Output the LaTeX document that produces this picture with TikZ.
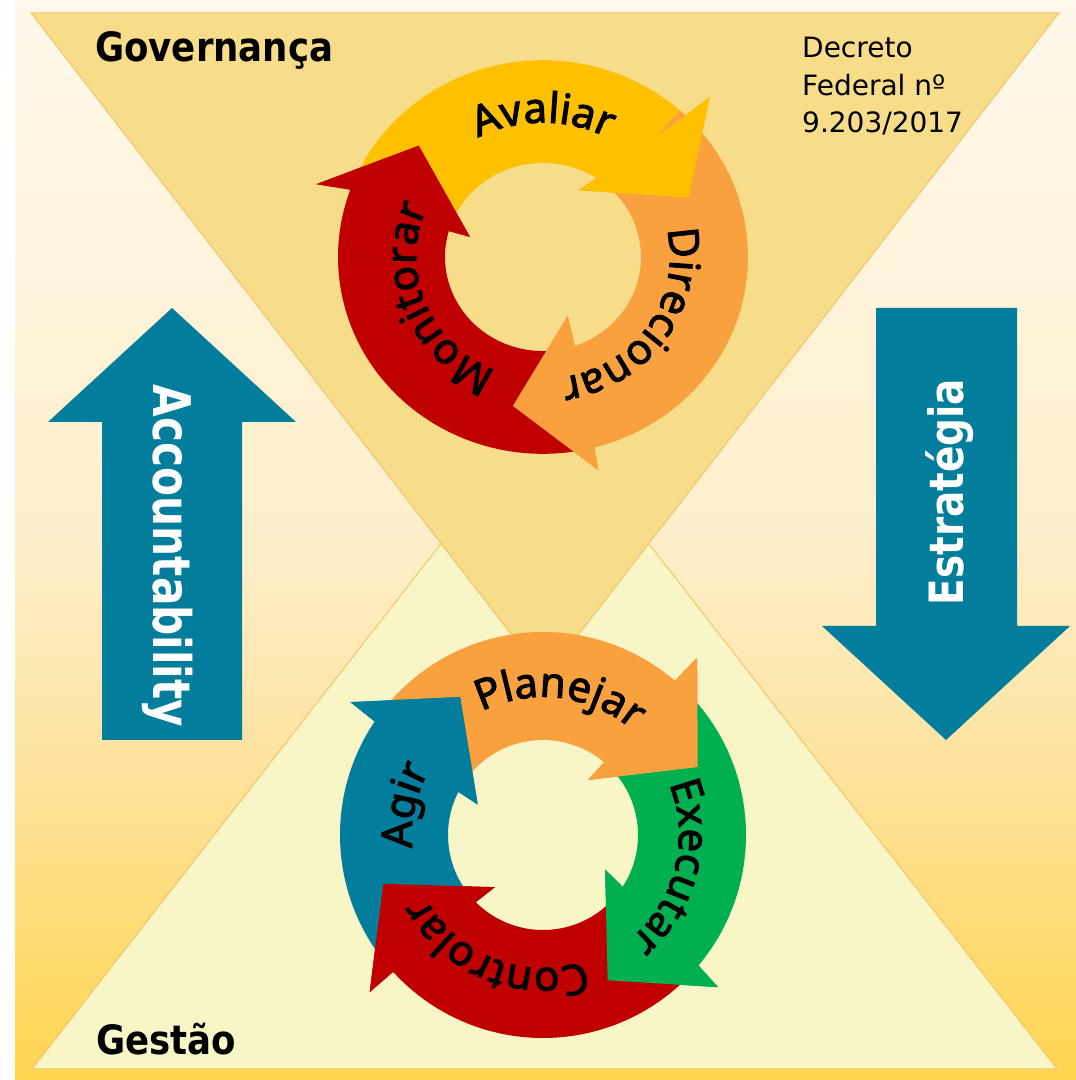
\documentclass[tikz,border=0pt]{standalone}
\usepackage{fontspec}
\setmainfont{Noto Sans}
\usetikzlibrary{decorations.text}
\newfontfamily\arcfont{Noto Sans}[FakeBold=2.4]
\newfontfamily\condbold{DejaVu Sans Bold}[FakeStretch=0.88]
\newfontfamily\decfont{DejaVu Sans}
\newcommand\arcfnt{\arcfont\fontsize{42}{42}\selectfont}
\definecolor{bgtop}{HTML}{FFF8EB}
\definecolor{bgmid}{HTML}{FEEFCB}
\definecolor{bglow}{HTML}{FDE3A0}
\definecolor{bgbot}{HTML}{FFD54F}
\definecolor{tritop}{HTML}{F7DC8A}
\definecolor{tribot}{HTML}{F8F6C6}
\definecolor{triedge}{HTML}{F3C46A}
\definecolor{cyel}{HTML}{FFC000}
\definecolor{cora}{HTML}{F9A03F}
\definecolor{cred}{HTML}{C00000}
\definecolor{cgrn}{HTML}{00B050}
\definecolor{cblu}{HTML}{027D9C}
\pgfdeclareverticalshading{bgshade}{100bp}{color(0bp)=(bgbot); color(25bp)=(bgbot); color(40bp)=(bglow); color(50bp)=(bgmid); color(75bp)=(bgtop); color(100bp)=(bgtop)}
\tikzset{
  tri/.style={draw=triedge, line width=1},
  bigarrow/.style={fill=cblu},
  bigtxt/.style={text=white, font=\condbold\fontsize{48}{48}\selectfont, inner sep=0},
  titletxt/.style={text=black, font=\condbold\fontsize{40.4}{40.4}\selectfont, inner sep=0, anchor=base west},
  dectxt/.style={text=black, font=\decfont\fontsize{28}{28}\selectfont, inner sep=0, anchor=base west},
  arctext/.style={decorate, decoration={text along path, text={|\arcfnt|#1}, text align=center}}
}
\begin{document}
\begin{tikzpicture}[x=1pt,y=1pt]
\useasboundingbox (0,0) rectangle (1076,1080);
\fill[white] (0,0) rectangle (1076,1080);
\shade[shading=bgshade] (15,0) rectangle (1076,1080);
% triangles
\filldraw[tri, fill=tribot] (32,11) -- (1057,11) -- (545,670) -- cycle;
\filldraw[tri, fill=tritop] (31,1067) -- (1059,1067) -- (545,402) -- cycle;
% big arrows
\fill[bigarrow] (102,340) -- (242,340) -- (242,658) -- (296,658) -- (172,772) -- (48,658) -- (102,658) -- cycle;
\fill[bigarrow] (876,772) -- (1017,772) -- (1017,454) -- (1070,454) -- (946,340) -- (822,454) -- (876,454) -- cycle;
\node[bigtxt, rotate=-90, anchor=base] (acc) at (153,524) {\scalebox{1}[1.08]{Accountability}};
\node[bigtxt, font=\condbold\fontsize{43}{43}\selectfont, rotate=90, anchor=base] (est) at (963,588) {\scalebox{1.03}[1.1]{Estratégia}};
% titles
\node[titletxt] (gov) at (95,1018) {Governança};
\node[titletxt] (ges) at (96,25) {Gestão};
\node[dectxt] (d1) at (802,1022) {Decreto};
\node[dectxt] (d2) at (802,984) {Federal nº};
\node[dectxt] (d3) at (802,947) {9.203/2017};
% governance cycle
\begin{scope}[shift={(543,823)}, yscale=0.96]
\fill[cyel] (158:205) arc[start angle=158,end angle=46,radius=205] -- (45:236) -- (23:158) -- (63:78) -- (57:98) arc[start angle=57,end angle=158,radius=98] -- cycle;
\fill[cora] (48:205) arc[start angle=48,end angle=-75.5,radius=205] -- (-76:229) -- (-101:158) -- (-68:66) -- (-71:98) arc[start angle=-71,end angle=48,radius=98] -- cycle;
\fill[cred] (-79:205) arc[start angle=-79,end angle=-200,radius=205] -- (-198.5:239) -- (-223:170) -- (-196:76) -- (-196:98) arc[start angle=-196,end angle=-79,radius=98] -- cycle;
\fill[cyel] (46:205) -- (45:236) -- (23:158) -- (63:78) -- (57:98) -- cycle;
\fill[cora] (-75.5:205) -- (-76:229) -- (-101:158) -- (-68:66) -- (-71:98) -- cycle;
\fill[cred] (-200:205) -- (-198.5:239) -- (-223:170) -- (-196:76) -- (-196:98) -- cycle;
\path[arctext=Avaliar] (150:140) arc[start angle=150,end angle=30,radius=140];
\path[arctext=Direcionar] (36:127) arc[start angle=36,end angle=-104,radius=127];
\path[arctext=Monitorar] (272:127) arc[start angle=272,end angle=132,radius=127];
\end{scope}
% management cycle
\begin{scope}[shift={(543,245)}]
\fill[cora] (142:203) arc[start angle=142,end angle=49.5,radius=203] -- (49:235) -- (23.7:169) -- (50.7:71) -- (50:95) arc[start angle=50,end angle=142,radius=95] -- cycle;
\fill[cgrn] (45:203) arc[start angle=45,end angle=-40,radius=203] -- (-41:232) -- (-66:159) -- (-29:71) -- (-33:95) arc[start angle=-33,end angle=45,radius=95] -- cycle;
\fill[cred] (-44:203) arc[start angle=-44,end angle=-137.6,radius=203] -- (-137.8:234) -- (-163:167) -- (-132.7:71) -- (-135:95) arc[start angle=-135,end angle=-44,radius=95] -- cycle;
\fill[cblu] (-141:203) arc[start angle=-141,end angle=-214,radius=203] -- (-214.6:234) -- (-239:161) -- (-205:72) -- (-207:95) arc[start angle=-207,end angle=-141,radius=95] -- cycle;
\fill[cora] (49.5:203) -- (49:235) -- (23.7:169) -- (50.7:71) -- (50:95) -- cycle;
\fill[cgrn] (-40:203) -- (-41:232) -- (-66:159) -- (-29:71) -- (-33:95) -- cycle;
\fill[cred] (-137.6:203) -- (-137.8:234) -- (-163:167) -- (-132.7:71) -- (-135:95) -- cycle;
\fill[cblu] (-214:203) -- (-214.6:234) -- (-239:161) -- (-205:72) -- (-207:95) -- cycle;
\path[arctext=Planejar] (150:138) arc[start angle=150,end angle=16,radius=138];
\path[arctext=Executar] (56:136) arc[start angle=56,end angle=-84,radius=136];
\path[arctext=Controlar] (-42:133) arc[start angle=-42,end angle=-182,radius=133];
\path[arctext=Agir] (228:131) arc[start angle=228,end angle=108,radius=131];
\end{scope}
\end{tikzpicture}
\end{document}
